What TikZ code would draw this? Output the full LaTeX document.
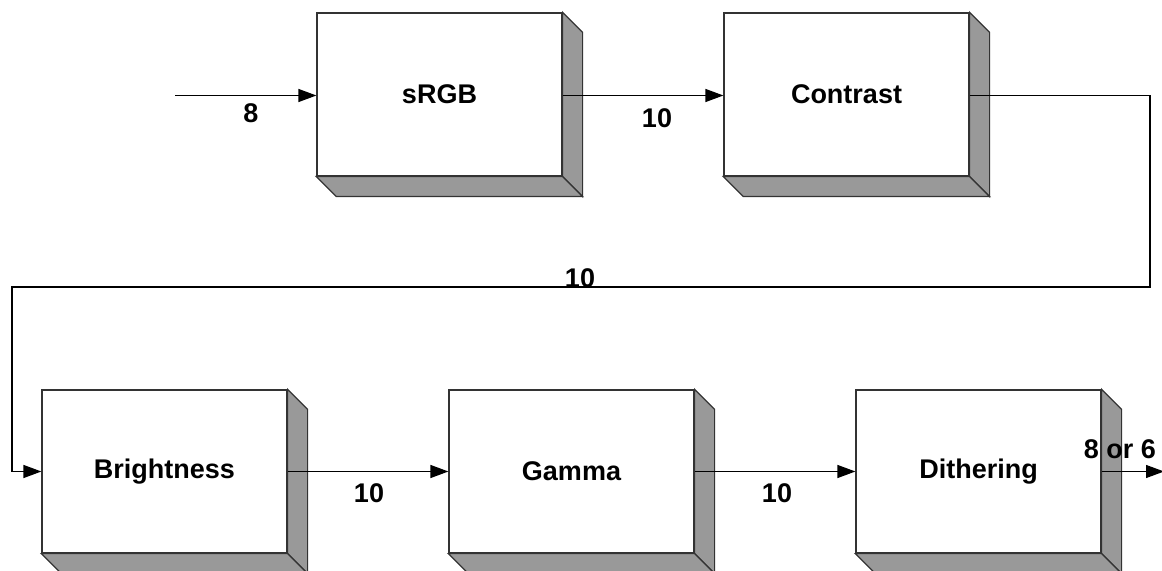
\documentclass[tikz,border=0pt]{standalone}
\usepackage{fontspec}
\setmainfont{Liberation Sans}
\usetikzlibrary{arrows.meta,positioning}

\tikzset{
  stage/.style={draw=black!80, line width=0.6pt, fill=white,
    minimum width=122.5pt, minimum height=81.5pt, inner sep=0pt,
    font=\fontsize{13.5}{16}\selectfont\bfseries},
  side/.style={draw=black!80, line width=0.6pt, fill=black!40},
  flow/.style={line width=0.6pt, -{Triangle[length=9pt,width=6.5pt]}},
  lbl/.style={font=\fontsize{13.5}{16}\selectfont\bfseries, inner sep=0pt}
}

\begin{document}
\begin{tikzpicture}[x=0.5pt,y=-0.5pt]
  \useasboundingbox (0,0) rectangle (1162,571);

  % the five stages
  \node[stage] (srgb) at (439.5,94.5) {sRGB};
  \node[stage] (contrast) at (846.5,94.5) {Contrast};
  \node[stage] (bright) at (164.5,471.5) {Brightness};
  \node[stage] (gamma) at (571.5,471.5) {Gamma};
  \node[stage] (dither) at (978.5,471.5) {Dithering};

  % depth of the boxes
  \foreach \b in {srgb,contrast,bright,gamma,dither}{
    \draw[side] (\b.north east) -- ++(20,20) -- ([shift={(20,20)}]\b.south east) -- (\b.south east) -- cycle;
    \draw[side] (\b.south west) -- (\b.south east) -- ++(20,20) -- ([shift={(20,20)}]\b.south west) -- cycle;
  }

  \coordinate (in) at (175,95.5);
  \coordinate (turnR) at (1150,287);
  \coordinate (turnL) at (12,287);
  \coordinate (out) at (1164,471.5);

  % connections
  \draw[flow] (in) -- (srgb.west|-in);
  \draw[flow] (srgb.east|-in) -- (contrast.west|-in);
  \draw[flow] (contrast.east|-in) -| (turnR) -- (turnL) |- (bright.west);
  \draw[flow] (bright.east) -- (gamma.west);
  \draw[flow] (gamma.east) -- (dither.west);
  \draw[flow] (dither.east) -- (out);

  % bit widths
  \node[lbl] (w0) at (251,113) {8};
  \node[lbl] (w1) at (657,118) {10};
  \node[lbl] (w2) at (580,278) {10};
  \node[lbl] (w3) at (369,493) {10};
  \node[lbl] (w4) at (777,493) {10};
  \node[lbl] (w5) at (1120,449) {8 or 6};
\end{tikzpicture}
\end{document}
